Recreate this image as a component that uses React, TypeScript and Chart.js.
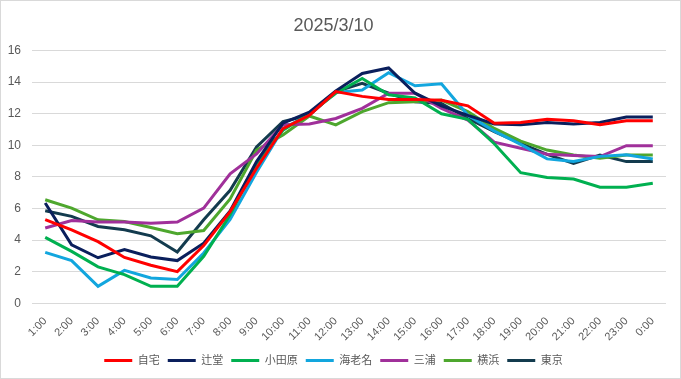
import React, { useEffect, useRef } from "react";
import { Chart, registerables } from "chart.js";

Chart.register(...registerables);

const hours = ["1:00","2:00","3:00","4:00","5:00","6:00","7:00","8:00","9:00","10:00","11:00","12:00","13:00","14:00","15:00","16:00","17:00","18:00","19:00","20:00","21:00","22:00","23:00","0:00"];

const jitaku = [5.3, 4.65, 3.9, 2.9, 2.4, 2.0, 3.65, 5.8, 8.55, 11.05, 11.9, 13.4, 13.1, 12.9, 12.9, 12.85, 12.5, 11.4, 11.45, 11.65, 11.55, 11.3, 11.55, 11.55];
const tsujido = [6.35, 3.7, 2.88, 3.4, 2.93, 2.7, 3.8, 5.85, 8.97, 11.4, 12.1, 13.45, 14.55, 14.9, 13.3, 12.5, 11.9, 11.35, 11.3, 11.45, 11.35, 11.45, 11.8, 11.8];
const odawara = [4.17, 3.28, 2.3, 1.81, 1.07, 1.07, 2.97, 5.6, 8.85, 10.95, 12.0, 13.3, 14.23, 13.2, 13.0, 12.0, 11.65, 10.1, 8.27, 7.96, 7.87, 7.35, 7.35, 7.6];
const ebina = [3.22, 2.7, 1.07, 2.08, 1.6, 1.5, 3.18, 5.3, 8.3, 11.05, 11.95, 13.35, 13.5, 14.6, 13.77, 13.9, 11.9, 10.9, 10.06, 9.14, 8.97, 9.3, 9.4, 9.14];
const miura = [4.76, 5.24, 5.14, 5.14, 5.07, 5.14, 6.02, 8.2, 9.45, 11.3, 11.35, 11.7, 12.34, 13.3, 13.3, 12.34, 11.6, 10.2, 9.81, 9.43, 9.35, 9.29, 9.98, 9.98];
const yokohama = [6.55, 6.02, 5.28, 5.18, 4.8, 4.4, 4.6, 6.6, 9.7, 10.66, 11.86, 11.29, 12.13, 12.7, 12.76, 12.87, 12.13, 11.07, 10.27, 9.7, 9.39, 9.18, 9.39, 9.39];
const tokyo = [5.86, 5.5, 4.86, 4.65, 4.27, 3.24, 5.28, 7.15, 9.9, 11.5, 11.92, 13.4, 13.92, 13.3, 12.76, 12.65, 11.7, 10.86, 10.12, 9.43, 8.86, 9.39, 8.97, 8.97];

const seriesNames = ["自宅", "辻堂", "小田原", "海老名", "三浦", "横浜", "東京"];
const seriesColors = ["#FF0000", "#0A1F5C", "#00B050", "#12A6DE", "#A0309A", "#4EA72E", "#133B4E"];
const seriesData = [jitaku, tsujido, odawara, ebina, miura, yokohama, tokyo];

const titleText = "2025/3/10";
const yTicks = { min: 0, max: 16, step: 2 };

const FONT = "'Liberation Sans', Arial, 'Noto Sans CJK JP', sans-serif";

export default function App() {
  const ref = useRef<HTMLCanvasElement | null>(null);
  useEffect(() => {
    if (!ref.current) return;
    const chart = new Chart(ref.current, {
      type: "line",
      data: {
        labels: hours,
        datasets: seriesData.map((d, i) => ({
          label: seriesNames[i],
          data: d,
          borderColor: seriesColors[i],
          backgroundColor: seriesColors[i],
          borderWidth: 3,
          pointRadius: 0,
          pointStyle: "line",
          tension: 0,
          fill: false,
        })),
      },
      options: {
        animation: false,
        responsive: false,
        maintainAspectRatio: false,
        layout: { padding: { left: 0, right: 14, top: 0, bottom: 2 } },
        plugins: {
          title: {
            display: true,
            text: titleText,
            color: "#595959",
            font: { family: FONT, size: 18, weight: "normal" },
            padding: { top: 14, bottom: 14 },
          },
          legend: {
            position: "bottom",
            labels: {
              usePointStyle: true,
              pointStyleWidth: 28,
              boxHeight: 3,
              boxWidth: 28,
              color: "#595959",
              padding: 8,
              font: { family: FONT, size: 11 },
            },
          },
          tooltip: { enabled: false },
        },
        scales: {
          x: {
            offset: true,
            grid: { display: false },
            border: { display: false },
            ticks: {
              color: "#595959",
              font: { family: FONT, size: 11 },
              maxRotation: 45,
              minRotation: 45,
              autoSkip: false,
              padding: 3.5,
            },
          },
          y: {
            min: yTicks.min,
            max: yTicks.max,
            afterFit: (scale: any) => {
              scale.width = 31;
            },
            grid: { color: "#D9D9D9", drawTicks: false, lineWidth: 1 },
            border: { display: false },
            ticks: {
              stepSize: yTicks.step,
              color: "#595959",
              font: { family: FONT, size: 12 },
              padding: 11,
            },
          },
        },
      },
    });
    return () => chart.destroy();
  }, []);
  return (
    <div
      style={{
        position: "fixed",
        left: 0,
        top: 0,
        width: 681,
        height: 379,
        boxSizing: "border-box",
        border: "1px solid #D9D9D9",
        background: "#fff",
      }}
    >
      <canvas ref={ref} width={679} height={377} style={{ display: "block" }} />
    </div>
  );
}
